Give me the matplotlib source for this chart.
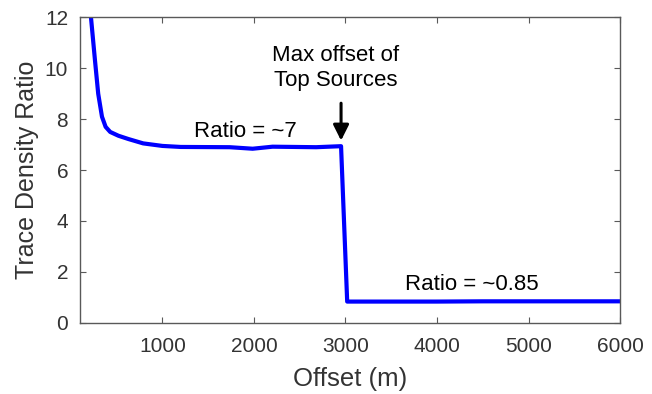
import matplotlib
matplotlib.use("Agg")
import matplotlib.pyplot as plt

# trace density ratio
offset = [220, 264, 299, 340, 380, 430, 520, 630, 790, 1000, 1200, 1735, 1986, 2204,
          2680, 2952, 3019, 3500, 4000, 4500, 5000, 5500, 6000]
ratio = [12.0, 10.3, 9.0, 8.1, 7.7, 7.5, 7.35, 7.22, 7.05, 6.95, 6.91, 6.90, 6.84, 6.92,
         6.90, 6.94, 0.83, 0.83, 0.83, 0.84, 0.84, 0.84, 0.84]

x_ticks = [1000, 2000, 3000, 4000, 5000, 6000]
y_ticks = [0, 2, 4, 6, 8, 10, 12]

plt.rcParams["font.family"] = ["Liberation Sans", "DejaVu Sans"]

fig = plt.figure(figsize=(6.52, 3.94), dpi=100)
ax = fig.add_axes([0.1227, 0.181, 0.8283, 0.7746])

ax.plot(offset, ratio, color="#0000ff", lw=3)

ax.set_xlim(100, 6000)
ax.set_ylim(0, 12)
ax.set_xticks(x_ticks)
ax.set_yticks(y_ticks)

axis_col = "#595959"
text_col = "#333333"
for s in ax.spines.values():
    s.set_color(axis_col)
    s.set_linewidth(1.0)
ax.tick_params(direction="in", length=4, width=0.8, color=axis_col,
               top=True, right=True, labelsize=15, labelcolor=text_col)
ax.tick_params(axis="x", pad=10)
ax.tick_params(axis="y", pad=8.5)

ax.set_xlabel("Offset (m)", fontsize=18.5, color=text_col, labelpad=8)
ax.set_ylabel("Trace Density Ratio", fontsize=18, color=text_col, labelpad=4)

ax.text(1910, 7.29, "Ratio = ~7", fontsize=16, ha="center", va="baseline")
ax.text(4384, 1.27, "Ratio = ~0.85", fontsize=16, ha="center", va="baseline")
ax.text(2890, 10.30, "Max offset of", fontsize=16, ha="center", va="baseline")
ax.text(2890, 9.32, "Top Sources", fontsize=16, ha="center", va="baseline")
ax.annotate("", xy=(2952, 7.16), xytext=(2952, 8.63),
            arrowprops=dict(arrowstyle="-|>", color="black", lw=2.2,
                            mutation_scale=23.5, shrinkA=0, shrinkB=0))

fig.savefig("out.png", dpi=100)
